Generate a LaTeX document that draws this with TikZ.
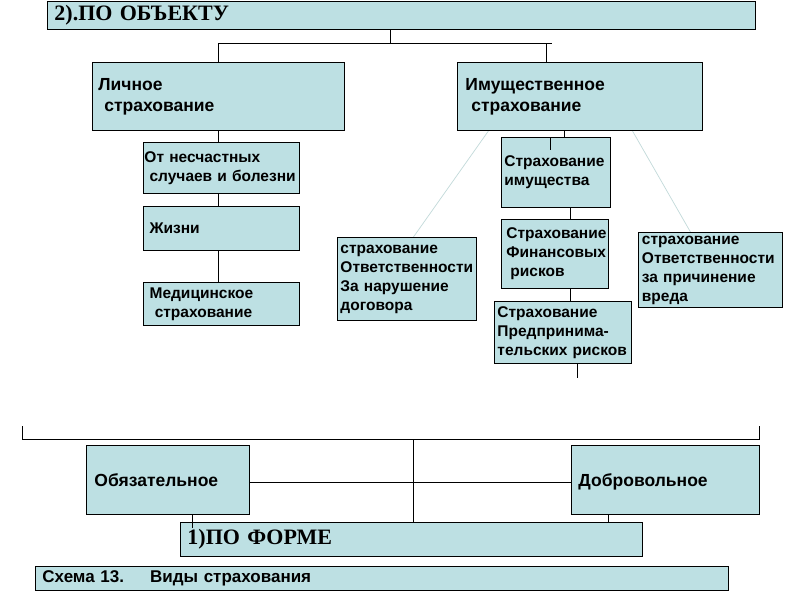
\documentclass[tikz,border=0pt]{standalone}
\usepackage{fontspec}
\setmainfont{Liberation Serif}
\setsansfont{Liberation Sans}
\usepackage{xcolor}
\definecolor{boxFill}{HTML}{BDE0E3}
\definecolor{guideLine}{HTML}{C2DADA}
\hyphenpenalty=10000
\exhyphenpenalty=10000
\pgfdeclarelayer{bg}
\pgfsetlayers{bg,main}
\tikzset{
  box/.style={draw, fill=boxFill, line width=0.9pt, anchor=north west, align=left, inner ysep=0pt},
  big/.style={font=\sffamily\bfseries\fontsize{17.5}{21}\selectfont},
  small/.style={font=\sffamily\bfseries\fontsize{15.5}{19}\selectfont},
  head/.style={font=\rmfamily\bfseries\fontsize{22}{24}\selectfont},
  capt/.style={font=\sffamily\bfseries\fontsize{17}{19}\selectfont},
  link/.style={line width=0.8pt},
  guide/.style={guideLine, line width=0.7pt}
}

\begin{document}
\begin{tikzpicture}[x=1pt,y=-1pt]
  \useasboundingbox (0,0) rectangle (800,600);

  % 2) po obektu
  \node[box, head, inner xsep=7pt, text width=694pt, minimum height=28pt] (title) at (47,1) {2).ПО ОБЪЕКТУ};
  \node[box, big, inner xsep=6pt, text width=240pt, minimum height=68pt] (lich) at (92,62) {Личное\\\ страхование};
  \node[box, big, inner xsep=8pt, text width=229pt, minimum height=68pt] (imush) at (457,62) {Имущественное\\\ страхование};

  \node[box, small, inner xsep=1pt, text width=154pt, minimum height=51pt] (nesch) at (143,142) {От несчастных\\\ случаев и болезни};
  \node[box, small, inner xsep=1pt, text width=154pt, minimum height=44pt] (zhizn) at (143,206) {\ Жизни};
  \node[box, small, inner xsep=1pt, text width=154pt, minimum height=43pt] (med) at (143,282) {\ Медицинское\\\ \ страхование};

  \node[box, small, inner xsep=3pt, text width=103pt, minimum height=70pt] (imus) at (501,137) {Страхование\\имущества};
  \node[box, small, inner xsep=5pt, text width=97pt, minimum height=69pt] (fin) at (501,219) {Страхование\\Финансовых\\\hspace*{4pt}рисков};
  \node[box, small, inner xsep=3pt, text width=131pt, minimum height=62pt] (pred) at (494,301) {Страхование\\Предпринима-\\тельских рисков};
  \node[box, small, inner xsep=3pt, text width=133pt, minimum height=83pt] (dog) at (337,237) {страхование\\Ответственности\\За нарушение\\договора};
  \node[box, small, inner xsep=3.5pt, text width=137pt, minimum height=75pt] (vred) at (638,232) {страхование\\Ответственности\\за причинение\\вреда};

  % 1) po forme
  \node[box, big, inner xsep=8pt, text width=147pt, minimum height=69pt] (obyaz) at (86,445) {Обязательное};
  \node[box, big, inner xsep=7pt, text width=174pt, minimum height=69pt, text depth=0.2pt] (dobr) at (571,445) {Добровольное};
  \node[box, head, inner xsep=7pt, text width=448pt, minimum height=34pt] (forma) at (180,522) {1)ПО ФОРМЕ};
  \node[box, capt, inner xsep=7pt, text width=679pt, minimum height=24pt] (capt) at (35,566) {Схема 13.\hspace{26pt}Виды страхования};

  \coordinate (tj) at (390,43);
  \coordinate (tr) at (552,43);
  \coordinate (tk) at (546,43);
  \coordinate (imtick) at (550,150);
  \coordinate (finx) at (570,0);
  \coordinate (predend) at (577,378);
  \coordinate (bl) at (22,426);
  \coordinate (bb) at (22,439);
  \coordinate (br) at (759,426);
  \coordinate (bm) at (413,439);

  \begin{pgfonlayer}{bg}
    \fill[white] (0,0) rectangle (800,600);
    \draw[link] (title.south -| tj) -- (tj);
    \draw[link] (lich.north) |- (tr);
    \draw[link] (tk) -- (tk |- imush.north);
    \draw[link] (lich.south) -- (lich.south |- med.north);
    \draw[link] ([xshift=-15.5pt]imush.south) -- ([xshift=-15.5pt]imush.south |- imus.north);
    \draw[link] (imus.south -| finx) -- (fin.north -| finx);
    \draw[link] (fin.south -| finx) -- (pred.north -| finx);
    \draw[link] (pred.south -| predend) -- (predend);
    \draw[guide] ([xshift=-91.5pt]imush.south) -- ([xshift=6.5pt]dog.north);
    \draw[guide] ([xshift=52.5pt]imush.south) -- ([xshift=-20pt]vred.north);

    \draw[link] (bl) -- (bb) -| (br);
    \draw[link] (bm) -- (bm |- forma.north);
    \draw[link] ([yshift=-2.5pt]obyaz.east) -- ([yshift=-2.5pt]dobr.west);
    \draw[link] ([xshift=-57pt]dobr.south) -- ([xshift=-57pt]dobr.south |- forma.north);
  \end{pgfonlayer}
  \draw[link] (imtick |- imus.north) -- (imtick);
  \draw[link] ([xshift=24.5pt]obyaz.south) -- ([xshift=24.5pt,yshift=-13pt]obyaz.south);
\end{tikzpicture}
\end{document}
